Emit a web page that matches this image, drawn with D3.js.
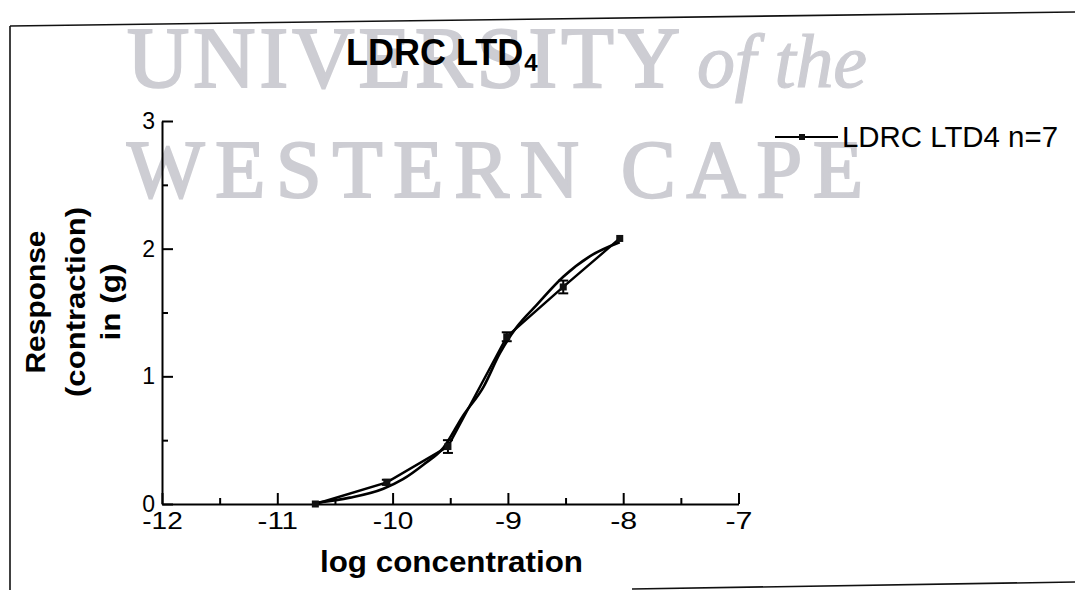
<!DOCTYPE html>
<html>
<head>
<meta charset="utf-8">
<script src="https://cdn.jsdelivr.net/npm/d3@7/dist/d3.min.js"></script>
<style>
  html, body { margin: 0; padding: 0; background: #fff; }
  svg { display: block; }
</style>
</head>
<body>
<svg id="chart" width="1075" height="590"></svg>
<script>
// ---- Data ----
const logConc   = [-10.67, -10.05, -9.52, -9.01, -8.52, -8.03];
const response  = [0.00, 0.17, 0.45, 1.31, 1.70, 2.08];
const sem       = [0.00, 0.02, 0.05, 0.035, 0.05, 0.01];

// fitted sigmoid curve
const fitX = [-10.66, -10.37, -10.08, -9.91, -9.73, -9.56, -9.39, -9.21, -9.07, -8.92, -8.75, -8.52, -8.29, -8.03];
const fitY = [0.01, 0.05, 0.12, 0.195, 0.31, 0.44, 0.69, 0.92, 1.18, 1.39, 1.56, 1.78, 1.94, 2.05];

const xMajorTicks = [-12, -11, -10, -9, -8, -7];
const xMinorTicks = [-11.5, -10.5, -9.5, -8.5, -7.5];
const yMajorTicks = [0, 1, 2, 3];
const yMinorTicks = [0.5, 1.5, 2.5];

const titleText = "LDRC LTD";
const titleSub = "4";
const legendText = "LDRC LTD4 n=7";
const xLabel = "log concentration";
const yLabelLines = ["Response", "(contraction)", "in (g)"];

// ---- Setup ----
const svg = d3.select("#chart");
const sans = "'Liberation Sans', Arial, Helvetica, sans-serif";
const serif = "'Liberation Serif', 'Times New Roman', serif";

svg.append("rect").attr("width", 1075).attr("height", 590).attr("fill", "#fff");

// watermark
const wmColor = "#cdcdd3";
const wm = svg.append("g").attr("fill", wmColor).attr("stroke", wmColor).attr("stroke-width", 2.2);
wm.append("text").attr("x", 127).attr("y", 87)
  .attr("font-family", serif).attr("font-size", 86)
  .attr("textLength", 553).attr("lengthAdjust", "spacing")
  .text("UNIVERSITY");
wm.append("text").attr("x", 697).attr("y", 87)
  .attr("font-family", serif).attr("font-size", 76).attr("font-style", "italic")
  .attr("stroke-width", 1.2)
  .attr("textLength", 170).attr("lengthAdjust", "spacing")
  .text("of the");
wm.append("text").attr("x", 127).attr("y", 197)
  .attr("font-family", serif).attr("font-size", 82)
  .attr("textLength", 736).attr("lengthAdjust", "spacing")
  .text("WESTERN CAPE");

// frame (scanned page border)
const frame = svg.append("g").attr("stroke", "#111").attr("stroke-width", 1.6).attr("fill", "none");
frame.append("line").attr("x1", 10).attr("y1", 26).attr("x2", 1075).attr("y2", 12);
frame.append("line").attr("x1", 10).attr("y1", 26).attr("x2", 10).attr("y2", 590);
frame.append("line").attr("x1", 632).attr("y1", 589).attr("x2", 1075).attr("y2", 582);

// scales
const x = d3.scaleLinear().domain([-12, -7]).range([162, 738.5]);
const y = d3.scaleLinear().domain([0, 3]).range([504, 121]);

// axes
const axisColor = "#000";
const yAxisMajor = svg.append("g").attr("transform", `translate(${x(-12)},0)`)
  .call(d3.axisLeft(y).tickValues(yMajorTicks).tickSizeInner(-11).tickSizeOuter(0).tickPadding(7).tickFormat(d3.format("d")));
const yAxisMinor = svg.append("g").attr("transform", `translate(${x(-12)},0)`)
  .call(d3.axisLeft(y).tickValues(yMinorTicks).tickSizeInner(-6).tickSizeOuter(0).tickFormat(""));
yAxisMinor.select(".domain").remove();

const xAxisMajor = svg.append("g").attr("transform", `translate(0,${y(0)})`)
  .call(d3.axisBottom(x).tickValues(xMajorTicks).tickSizeInner(-11).tickSizeOuter(0).tickPadding(9).tickFormat(d => d3.format("d")(d).replace("−", "-")));
const xAxisMinor = svg.append("g").attr("transform", `translate(0,${y(0)})`)
  .call(d3.axisBottom(x).tickValues(xMinorTicks).tickSizeInner(-6).tickSizeOuter(0).tickFormat(""));
xAxisMinor.select(".domain").remove();

[yAxisMajor, yAxisMinor, xAxisMajor, xAxisMinor].forEach(g => {
  g.selectAll("path, line").attr("stroke", axisColor).attr("stroke-width", 2);
  g.selectAll("text").attr("font-family", sans).attr("font-size", 23).attr("fill", "#000");
});
xAxisMajor.selectAll("text").attr("textLength", function(d){ return String(d).length * 13.5; }).attr("lengthAdjust", "spacingAndGlyphs");

// data line
const pts = logConc.map((v, i) => ({ x: v, y: response[i], e: sem[i] }));
const fit = fitX.map((v, i) => ({ x: v, y: fitY[i] }));

svg.append("path").datum(fit)
  .attr("fill", "none").attr("stroke", "#000").attr("stroke-width", 2.6)
  .attr("d", d3.line().x(d => x(d.x)).y(d => y(d.y)).curve(d3.curveMonotoneX));

svg.append("path").datum(pts)
  .attr("fill", "none").attr("stroke", "#000").attr("stroke-width", 2.4)
  .attr("d", d3.line().x(d => x(d.x)).y(d => y(d.y)));

// error bars
const eb = svg.append("g").attr("stroke", "#000").attr("stroke-width", 2);
pts.filter(d => d.e > 0.015).forEach(d => {
  eb.append("line").attr("x1", x(d.x)).attr("x2", x(d.x)).attr("y1", y(d.y - d.e)).attr("y2", y(d.y + d.e));
  eb.append("line").attr("x1", x(d.x) - 5).attr("x2", x(d.x) + 5).attr("y1", y(d.y - d.e)).attr("y2", y(d.y - d.e));
  eb.append("line").attr("x1", x(d.x) - 5).attr("x2", x(d.x) + 5).attr("y1", y(d.y + d.e)).attr("y2", y(d.y + d.e));
});

// markers
svg.append("g").selectAll("rect").data(pts).join("rect")
  .attr("x", d => x(d.x) - 3.5).attr("y", d => y(d.y) - 3.5)
  .attr("width", 7).attr("height", 7).attr("fill", "#111");

// title
const title = svg.append("text").attr("x", 346).attr("y", 65)
  .attr("font-family", sans).attr("font-weight", "bold").attr("fill", "#000");
title.append("tspan").attr("font-size", 36).text(titleText);
title.append("tspan").attr("font-size", 24).attr("dx", 1).attr("dy", 6).text(titleSub);

// legend
const lg = svg.append("g");
lg.append("line").attr("x1", 775).attr("x2", 838).attr("y1", 137).attr("y2", 137)
  .attr("stroke", "#000").attr("stroke-width", 1.8);
lg.append("rect").attr("x", 799).attr("y", 134).attr("width", 6).attr("height", 6).attr("fill", "#111");
lg.append("text").attr("x", 842).attr("y", 147)
  .attr("font-family", sans).attr("font-size", 29).attr("fill", "#000")
  .attr("textLength", 216).attr("lengthAdjust", "spacingAndGlyphs")
  .text(legendText);

// x label
svg.append("text").attr("x", 320).attr("y", 572)
  .attr("font-family", sans).attr("font-weight", "bold").attr("font-size", 29).attr("fill", "#000")
  .attr("textLength", 263).attr("lengthAdjust", "spacingAndGlyphs")
  .text(xLabel);

// y label (three rotated lines)
const yLabX = [45, 85, 120];
const yLabLen = [143, 190, 77];
yLabelLines.forEach((t, i) => {
  svg.append("text")
    .attr("transform", `translate(${yLabX[i]},302) rotate(-90)`)
    .attr("text-anchor", "middle")
    .attr("font-family", sans).attr("font-weight", "bold").attr("font-size", 27).attr("fill", "#000")
    .attr("textLength", yLabLen[i]).attr("lengthAdjust", "spacingAndGlyphs")
    .text(t);
});
</script>
</body>
</html>
